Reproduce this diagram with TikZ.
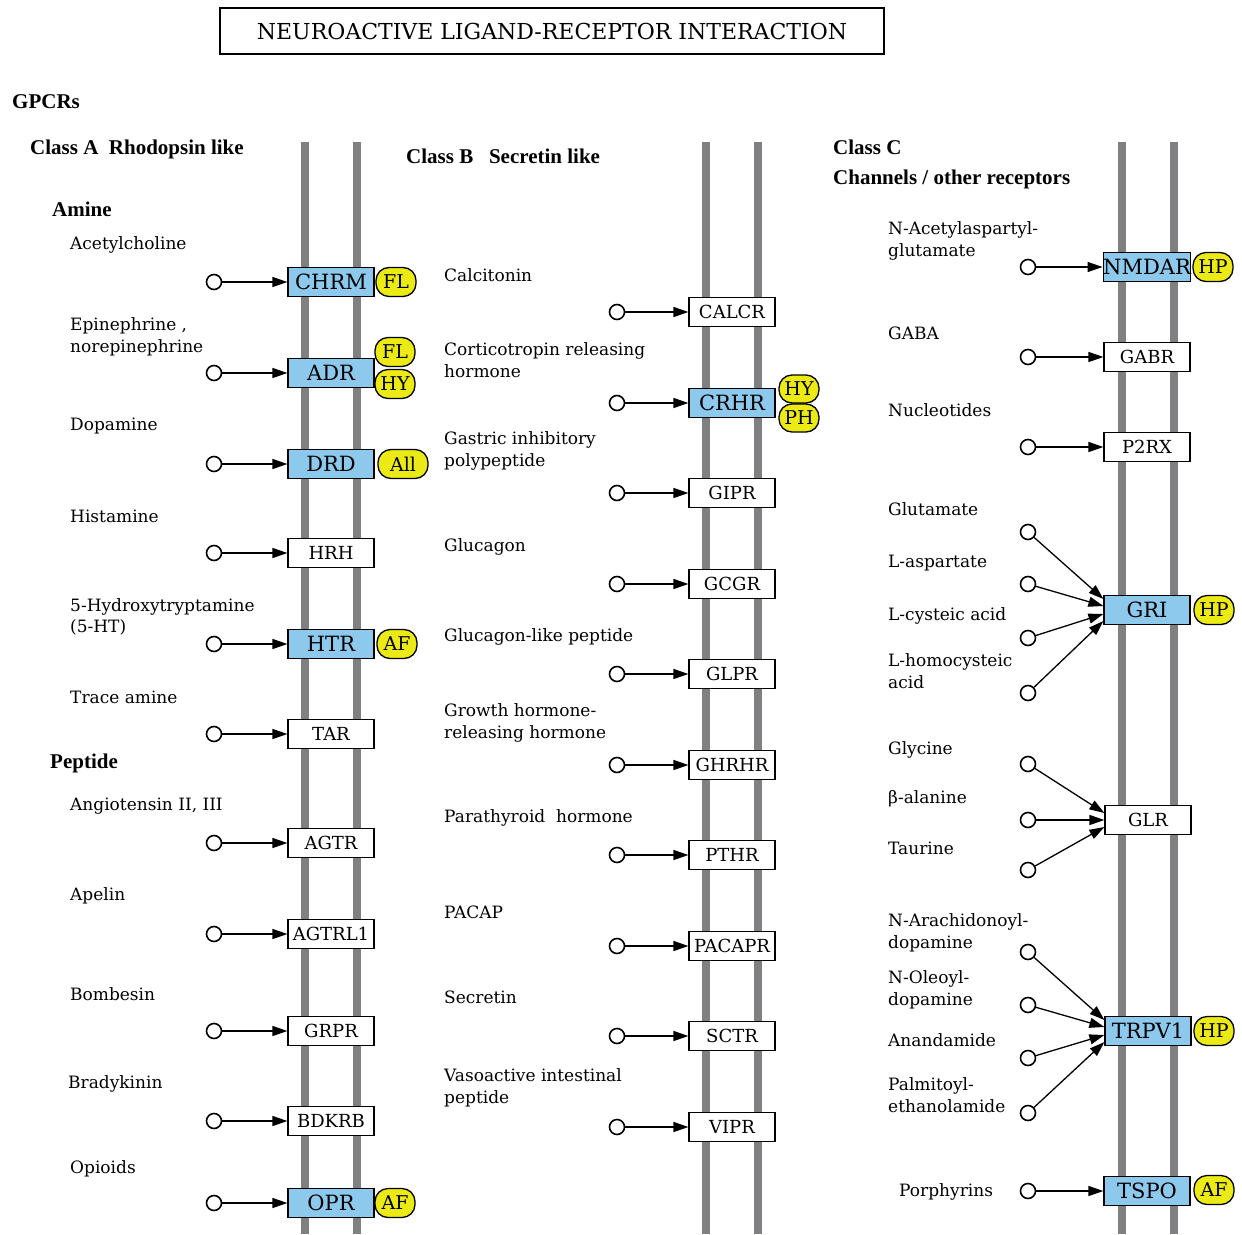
\documentclass[tikz,border=0pt]{standalone}
\usepackage{fontspec}
\setmainfont{DejaVu Serif}
\newfontfamily\hdrfont{Liberation Serif}
\usetikzlibrary{arrows.meta}
\definecolor{memgray}{RGB}{128,128,130}
\definecolor{geneblue}{RGB}{140,201,236}
\definecolor{badgeyel}{RGB}{236,234,20}
\begin{document}
\begin{tikzpicture}[x=1pt,y=-1pt,
 lbl/.style={anchor=west, align=left, inner sep=0pt, font=\fontsize{17}{21.5}\selectfont},
 hdr/.style={anchor=west, inner sep=0pt, font=\hdrfont\bfseries\fontsize{21}{23}\selectfont},
 gene/.style={draw=black, line width=1.2pt, minimum width=86pt, minimum height=29pt, inner sep=0pt, fill=white, font=\fontsize{18}{18}\selectfont},
 bgene/.style={gene, fill=geneblue, font=\fontsize{21}{21}\selectfont},
 badge/.style={draw=black, line width=1.3pt, fill=badgeyel, rounded corners=13pt, minimum width=40pt, minimum height=29pt, inner sep=0pt, font=\fontsize{19}{19}\selectfont},
 lig/.style={circle, draw=black, line width=1.6pt, fill=white, minimum size=15pt, inner sep=0pt},
 mem/.style={draw=memgray, line width=8pt},
 act/.style={-{Triangle[length=15pt,width=10pt]}, line width=1.3pt},
]
\fill[white] (0,0) rectangle (1242,1234);
\useasboundingbox (0,0) rectangle (1242,1234);

% membranes
\foreach \mx in {305,357,706,758,1122,1174}{
  \draw[mem] (\mx,142) -- (\mx,1234);
}

% title
\node[draw, line width=2.4pt, minimum width=664pt, minimum height=46pt, inner sep=0pt,
      font=\fontsize{22}{22}\selectfont] (title) at (552,31) {NEUROACTIVE LIGAND-RECEPTOR INTERACTION};

% headers
\node[hdr] (hGPCR) at (12,102) {GPCRs};
\node[hdr] (hA) at (30,149) {Class A\ \ Rhodopsin like};
\node[hdr] (hAmine) at (52,209) {Amine};
\node[hdr] (hPep) at (50,763) {Peptide};
\node[hdr] (hB) at (406,156) {Class B\ \ \ Secretin like};
\node[hdr] (hC) at (833,147) {Class C};
\node[hdr] (hCh) at (833,179) {Channels / other receptors};

% column A labels
\node[lbl] (tA1) at (70,245) {Acetylcholine};
\node[lbl] (tA2) at (70,337) {Epinephrine ,\\norepinephrine};
\node[lbl] (tA3) at (70,426) {Dopamine};
\node[lbl] (tA4) at (70,516) {Histamine};
\node[lbl] (tA5) at (70,617) {5-Hydroxytryptamine\\(5-HT)};
\node[lbl] (tA6) at (70,697) {Trace amine};
\node[lbl] (tA7) at (70,806) {Angiotensin II, III};
\node[lbl] (tA8) at (70,896) {Apelin};
\node[lbl] (tA9) at (70,994) {Bombesin};
\node[lbl] (tA10) at (68,1084) {Bradykinin};
\node[lbl] (tA11) at (70,1169) {Opioids};

% column B labels
\node[lbl] (tB1) at (444,275) {Calcitonin};
\node[lbl] (tB2) at (444,360) {Corticotropin releasing\\hormone};
\node[lbl] (tB3) at (444,451) {Gastric inhibitory\\polypeptide};
\node[lbl] (tB4) at (444,547) {Glucagon};
\node[lbl] (tB5) at (444,637) {Glucagon-like peptide};
\node[lbl] (tB6) at (444,723) {Growth hormone-\\releasing hormone};
\node[lbl] (tB7) at (444,818) {Parathyroid\ \ hormone};
\node[lbl] (tB8) at (444,912) {PACAP};
\node[lbl] (tB9) at (444,997) {Secretin};
\node[lbl] (tB10) at (444,1088) {Vasoactive intestinal\\peptide};

% column C labels
\node[lbl] (tC1) at (888,241) {N-Acetylaspartyl-\\glutamate};
\node[lbl] (tC2) at (888,333) {GABA};
\node[lbl] (tC3) at (888,410) {Nucleotides};
\node[lbl] (tC4) at (888,509) {Glutamate};
\node[lbl] (tC5) at (888,563) {L-aspartate};
\node[lbl] (tC6) at (888,616) {L-cysteic acid};
\node[lbl] (tC7) at (888,671) {L-homocysteic\\acid};
\node[lbl] (tC8) at (888,750) {Glycine};
\node[lbl] (tC9) at (888,799) {β-alanine};
\node[lbl] (tC10) at (888,848) {Taurine};
\node[lbl] (tC11) at (888,933) {N-Arachidonoyl-\\dopamine};
\node[lbl] (tC12) at (888,990) {N-Oleoyl-\\dopamine};
\node[lbl] (tC13) at (888,1040) {Anandamide};
\node[lbl] (tC14) at (888,1095) {Palmitoyl-\\ethanolamide};
\node[lbl] (tC15) at (899,1192) {Porphyrins};

% column A genes
\node[bgene] (CHRM) at (331,282) {CHRM};
\node[bgene] (ADR) at (331,373) {ADR};
\node[bgene] (DRD) at (331,464) {DRD};
\node[gene] (HRH) at (331,553) {HRH};
\node[bgene] (HTR) at (331,644) {HTR};
\node[gene] (TAR) at (331,734) {TAR};
\node[gene] (AGTR) at (331,843) {AGTR};
\node[gene] (AGTRL1) at (331,934) {AGTRL1};
\node[gene] (GRPR) at (331,1031) {GRPR};
\node[gene] (BDKRB) at (331,1121) {BDKRB};
\node[bgene] (OPR) at (331,1203) {OPR};

% column B genes
\node[gene] (CALCR) at (732,312) {CALCR};
\node[bgene] (CRHR) at (732,403) {CRHR};
\node[gene] (GIPR) at (732,493) {GIPR};
\node[gene] (GCGR) at (732,584) {GCGR};
\node[gene] (GLPR) at (732,674) {GLPR};
\node[gene] (GHRHR) at (732,765) {GHRHR};
\node[gene] (PTHR) at (732,855) {PTHR};
\node[gene] (PACAPR) at (732,946) {PACAPR};
\node[gene] (SCTR) at (732,1036) {SCTR};
\node[gene] (VIPR) at (732,1127) {VIPR};

% column C genes
\node[bgene] (NMDAR) at (1147,267) {NMDAR};
\node[gene] (GABR) at (1147,357) {GABR};
\node[gene] (P2RX) at (1147,447) {P2RX};
\node[bgene] (GRI) at (1147,610) {GRI};
\node[gene] (GLR) at (1148,820) {GLR};
\node[bgene] (TRPV1) at (1148,1031) {TRPV1};
\node[bgene] (TSPO) at (1147,1191) {TSPO};

% badges
\node[badge] (bCHRM) at (396,282) {FL};
\node[badge] (bADR1) at (395,352) {FL};
\node[badge] (bADR2) at (395,384) {HY};
\node[badge, minimum width=50pt] (bDRD) at (403,464) {All};
\node[badge] (bHTR) at (397,644) {AF};
\node[badge] (bOPR) at (395,1203) {AF};
\node[badge, minimum height=28pt] (bCRHR1) at (799,389) {HY};
\node[badge, minimum height=28pt] (bCRHR2) at (799,418) {PH};
\node[badge] (bNMDAR) at (1213,267) {HP};
\node[badge] (bGRI) at (1214,610) {HP};
\node[badge] (bTRPV1) at (1214,1031) {HP};
\node[badge] (bTSPO) at (1214,1190) {AF};

% single ligands
\foreach \g/\gx/\gy in {CHRM/214/282, ADR/214/373, DRD/214/464, HRH/214/553, HTR/214/644,
  TAR/214/734, AGTR/214/843, AGTRL1/214/934, GRPR/214/1031, BDKRB/214/1121, OPR/214/1203,
  CALCR/617/312, CRHR/617/403, GIPR/617/493, GCGR/617/584, GLPR/617/674, GHRHR/617/765,
  PTHR/617/855, PACAPR/617/946, SCTR/617/1036, VIPR/617/1127,
  NMDAR/1028/267, GABR/1028/357, P2RX/1028/447, TSPO/1028/1191}{
  \node[lig] (l\g) at (\gx,\gy) {};
  \draw[act] (l\g) -- (\g);
}

% GRI ligands
\node[lig] (lGRI1) at (1028,532) {};
\node[lig] (lGRI2) at (1028,584) {};
\node[lig] (lGRI3) at (1028,638) {};
\node[lig] (lGRI4) at (1028,693) {};
\draw[act] (lGRI1) -- ([yshift=11pt]GRI.west);
\draw[act] (lGRI2) -- ([yshift=4pt]GRI.west);
\draw[act] (lGRI3) -- ([yshift=-4pt]GRI.west);
\draw[act] (lGRI4) -- ([yshift=-11pt]GRI.west);

% GLR ligands
\node[lig] (lGLR1) at (1028,764) {};
\node[lig] (lGLR2) at (1028,820) {};
\node[lig] (lGLR3) at (1028,870) {};
\draw[act] (lGLR1) -- ([yshift=7pt]GLR.west);
\draw[act] (lGLR2) -- (GLR.west);
\draw[act] (lGLR3) -- ([yshift=-7pt]GLR.west);

% TRPV1 ligands
\node[lig] (lTRPV1a) at (1028,952) {};
\node[lig] (lTRPV1b) at (1028,1005) {};
\node[lig] (lTRPV1c) at (1028,1058) {};
\node[lig] (lTRPV1d) at (1028,1113) {};
\draw[act] (lTRPV1a) -- ([yshift=11pt]TRPV1.west);
\draw[act] (lTRPV1b) -- ([yshift=4pt]TRPV1.west);
\draw[act] (lTRPV1c) -- ([yshift=-4pt]TRPV1.west);
\draw[act] (lTRPV1d) -- ([yshift=-11pt]TRPV1.west);
\end{tikzpicture}
\end{document}
